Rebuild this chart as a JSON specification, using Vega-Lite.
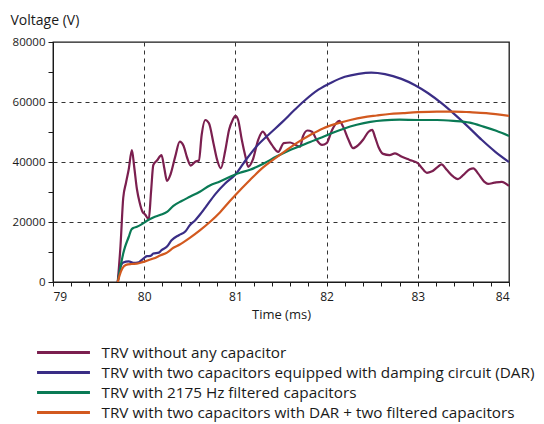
{
  "$schema": "https://vega.github.io/schema/vega-lite/v6.json",
  "autosize": {"type": "none"},
  "padding": {"left": 53, "top": 42, "right": 35, "bottom": 142},
  "width": 456,
  "height": 240,
  "background": "white",
  "config": {
    "font": "Open Sans",
    "view": {"stroke": "#1a1a1a", "strokeWidth": 1.3},
    "axis": {"domainColor": "#1a1a1a", "tickColor": "#1a1a1a", "labelColor": "#1a1a1a", "titleColor": "#1a1a1a", "labelFont": "Open Sans", "titleFont": "Open Sans", "titleFontWeight": "normal"}
  },
  "data": {"values": [
    {"t": 79.71, "v": 0, "s": "TRV without any capacitor"},
    {"t": 79.74, "v": 12000, "s": "TRV without any capacitor"},
    {"t": 79.77, "v": 28000, "s": "TRV without any capacitor"},
    {"t": 79.8, "v": 33000, "s": "TRV without any capacitor"},
    {"t": 79.83, "v": 37500, "s": "TRV without any capacitor"},
    {"t": 79.865, "v": 44000, "s": "TRV without any capacitor"},
    {"t": 79.89, "v": 38500, "s": "TRV without any capacitor"},
    {"t": 79.92, "v": 31000, "s": "TRV without any capacitor"},
    {"t": 79.95, "v": 26500, "s": "TRV without any capacitor"},
    {"t": 79.98, "v": 23500, "s": "TRV without any capacitor"},
    {"t": 80.01, "v": 22500, "s": "TRV without any capacitor"},
    {"t": 80.05, "v": 20900, "s": "TRV without any capacitor"},
    {"t": 80.075, "v": 30000, "s": "TRV without any capacitor"},
    {"t": 80.1, "v": 39000, "s": "TRV without any capacitor"},
    {"t": 80.14, "v": 40500, "s": "TRV without any capacitor"},
    {"t": 80.19, "v": 42300, "s": "TRV without any capacitor"},
    {"t": 80.22, "v": 38000, "s": "TRV without any capacitor"},
    {"t": 80.25, "v": 33700, "s": "TRV without any capacitor"},
    {"t": 80.29, "v": 36000, "s": "TRV without any capacitor"},
    {"t": 80.34, "v": 41800, "s": "TRV without any capacitor"},
    {"t": 80.39, "v": 46800, "s": "TRV without any capacitor"},
    {"t": 80.43, "v": 45500, "s": "TRV without any capacitor"},
    {"t": 80.47, "v": 41500, "s": "TRV without any capacitor"},
    {"t": 80.51, "v": 38800, "s": "TRV without any capacitor"},
    {"t": 80.56, "v": 40100, "s": "TRV without any capacitor"},
    {"t": 80.6, "v": 40500, "s": "TRV without any capacitor"},
    {"t": 80.63, "v": 49000, "s": "TRV without any capacitor"},
    {"t": 80.67, "v": 54000, "s": "TRV without any capacitor"},
    {"t": 80.71, "v": 52900, "s": "TRV without any capacitor"},
    {"t": 80.76, "v": 46200, "s": "TRV without any capacitor"},
    {"t": 80.8, "v": 40700, "s": "TRV without any capacitor"},
    {"t": 80.84, "v": 37900, "s": "TRV without any capacitor"},
    {"t": 80.89, "v": 44000, "s": "TRV without any capacitor"},
    {"t": 80.93, "v": 50700, "s": "TRV without any capacitor"},
    {"t": 80.97, "v": 54000, "s": "TRV without any capacitor"},
    {"t": 81.0, "v": 55400, "s": "TRV without any capacitor"},
    {"t": 81.03, "v": 54000, "s": "TRV without any capacitor"},
    {"t": 81.07, "v": 47400, "s": "TRV without any capacitor"},
    {"t": 81.11, "v": 41800, "s": "TRV without any capacitor"},
    {"t": 81.14, "v": 38400, "s": "TRV without any capacitor"},
    {"t": 81.19, "v": 40700, "s": "TRV without any capacitor"},
    {"t": 81.25, "v": 47400, "s": "TRV without any capacitor"},
    {"t": 81.3, "v": 50100, "s": "TRV without any capacitor"},
    {"t": 81.34, "v": 48500, "s": "TRV without any capacitor"},
    {"t": 81.4, "v": 45700, "s": "TRV without any capacitor"},
    {"t": 81.47, "v": 43400, "s": "TRV without any capacitor"},
    {"t": 81.53, "v": 46300, "s": "TRV without any capacitor"},
    {"t": 81.6, "v": 46500, "s": "TRV without any capacitor"},
    {"t": 81.66, "v": 45700, "s": "TRV without any capacitor"},
    {"t": 81.71, "v": 45100, "s": "TRV without any capacitor"},
    {"t": 81.74, "v": 48500, "s": "TRV without any capacitor"},
    {"t": 81.79, "v": 50500, "s": "TRV without any capacitor"},
    {"t": 81.84, "v": 50100, "s": "TRV without any capacitor"},
    {"t": 81.89, "v": 47400, "s": "TRV without any capacitor"},
    {"t": 81.95, "v": 45700, "s": "TRV without any capacitor"},
    {"t": 82.0, "v": 46300, "s": "TRV without any capacitor"},
    {"t": 82.06, "v": 50700, "s": "TRV without any capacitor"},
    {"t": 82.11, "v": 53100, "s": "TRV without any capacitor"},
    {"t": 82.14, "v": 53700, "s": "TRV without any capacitor"},
    {"t": 82.18, "v": 51800, "s": "TRV without any capacitor"},
    {"t": 82.24, "v": 47400, "s": "TRV without any capacitor"},
    {"t": 82.29, "v": 44600, "s": "TRV without any capacitor"},
    {"t": 82.35, "v": 45700, "s": "TRV without any capacitor"},
    {"t": 82.4, "v": 47400, "s": "TRV without any capacitor"},
    {"t": 82.46, "v": 50100, "s": "TRV without any capacitor"},
    {"t": 82.5, "v": 50700, "s": "TRV without any capacitor"},
    {"t": 82.53, "v": 48400, "s": "TRV without any capacitor"},
    {"t": 82.57, "v": 44900, "s": "TRV without any capacitor"},
    {"t": 82.62, "v": 42700, "s": "TRV without any capacitor"},
    {"t": 82.69, "v": 42300, "s": "TRV without any capacitor"},
    {"t": 82.75, "v": 42900, "s": "TRV without any capacitor"},
    {"t": 82.82, "v": 41800, "s": "TRV without any capacitor"},
    {"t": 82.91, "v": 40700, "s": "TRV without any capacitor"},
    {"t": 83.0, "v": 39600, "s": "TRV without any capacitor"},
    {"t": 83.04, "v": 38200, "s": "TRV without any capacitor"},
    {"t": 83.1, "v": 36400, "s": "TRV without any capacitor"},
    {"t": 83.15, "v": 36800, "s": "TRV without any capacitor"},
    {"t": 83.22, "v": 38400, "s": "TRV without any capacitor"},
    {"t": 83.26, "v": 39200, "s": "TRV without any capacitor"},
    {"t": 83.32, "v": 37300, "s": "TRV without any capacitor"},
    {"t": 83.39, "v": 35100, "s": "TRV without any capacitor"},
    {"t": 83.44, "v": 34300, "s": "TRV without any capacitor"},
    {"t": 83.5, "v": 35700, "s": "TRV without any capacitor"},
    {"t": 83.57, "v": 37600, "s": "TRV without any capacitor"},
    {"t": 83.61, "v": 37900, "s": "TRV without any capacitor"},
    {"t": 83.66, "v": 36200, "s": "TRV without any capacitor"},
    {"t": 83.73, "v": 33400, "s": "TRV without any capacitor"},
    {"t": 83.77, "v": 32700, "s": "TRV without any capacitor"},
    {"t": 83.84, "v": 33100, "s": "TRV without any capacitor"},
    {"t": 83.92, "v": 33400, "s": "TRV without any capacitor"},
    {"t": 84.0, "v": 32000, "s": "TRV without any capacitor"},

    {"t": 79.71, "v": 0, "s": "TRV with two capacitors equipped with damping circuit (DAR)"},
    {"t": 79.74, "v": 5000, "s": "TRV with two capacitors equipped with damping circuit (DAR)"},
    {"t": 79.77, "v": 6500, "s": "TRV with two capacitors equipped with damping circuit (DAR)"},
    {"t": 79.83, "v": 6900, "s": "TRV with two capacitors equipped with damping circuit (DAR)"},
    {"t": 79.88, "v": 6400, "s": "TRV with two capacitors equipped with damping circuit (DAR)"},
    {"t": 79.94, "v": 6600, "s": "TRV with two capacitors equipped with damping circuit (DAR)"},
    {"t": 79.99, "v": 7800, "s": "TRV with two capacitors equipped with damping circuit (DAR)"},
    {"t": 80.03, "v": 8600, "s": "TRV with two capacitors equipped with damping circuit (DAR)"},
    {"t": 80.07, "v": 8700, "s": "TRV with two capacitors equipped with damping circuit (DAR)"},
    {"t": 80.1, "v": 9500, "s": "TRV with two capacitors equipped with damping circuit (DAR)"},
    {"t": 80.16, "v": 9800, "s": "TRV with two capacitors equipped with damping circuit (DAR)"},
    {"t": 80.19, "v": 10600, "s": "TRV with two capacitors equipped with damping circuit (DAR)"},
    {"t": 80.25, "v": 11800, "s": "TRV with two capacitors equipped with damping circuit (DAR)"},
    {"t": 80.3, "v": 13900, "s": "TRV with two capacitors equipped with damping circuit (DAR)"},
    {"t": 80.38, "v": 15600, "s": "TRV with two capacitors equipped with damping circuit (DAR)"},
    {"t": 80.45, "v": 16800, "s": "TRV with two capacitors equipped with damping circuit (DAR)"},
    {"t": 80.5, "v": 18900, "s": "TRV with two capacitors equipped with damping circuit (DAR)"},
    {"t": 80.56, "v": 20600, "s": "TRV with two capacitors equipped with damping circuit (DAR)"},
    {"t": 80.61, "v": 22400, "s": "TRV with two capacitors equipped with damping circuit (DAR)"},
    {"t": 80.67, "v": 24800, "s": "TRV with two capacitors equipped with damping circuit (DAR)"},
    {"t": 80.78, "v": 29300, "s": "TRV with two capacitors equipped with damping circuit (DAR)"},
    {"t": 80.89, "v": 32900, "s": "TRV with two capacitors equipped with damping circuit (DAR)"},
    {"t": 81.0, "v": 35800, "s": "TRV with two capacitors equipped with damping circuit (DAR)"},
    {"t": 81.11, "v": 40500, "s": "TRV with two capacitors equipped with damping circuit (DAR)"},
    {"t": 81.22, "v": 44800, "s": "TRV with two capacitors equipped with damping circuit (DAR)"},
    {"t": 81.36, "v": 49000, "s": "TRV with two capacitors equipped with damping circuit (DAR)"},
    {"t": 81.51, "v": 53200, "s": "TRV with two capacitors equipped with damping circuit (DAR)"},
    {"t": 81.65, "v": 57400, "s": "TRV with two capacitors equipped with damping circuit (DAR)"},
    {"t": 81.76, "v": 60500, "s": "TRV with two capacitors equipped with damping circuit (DAR)"},
    {"t": 81.91, "v": 64100, "s": "TRV with two capacitors equipped with damping circuit (DAR)"},
    {"t": 82.06, "v": 66600, "s": "TRV with two capacitors equipped with damping circuit (DAR)"},
    {"t": 82.2, "v": 68400, "s": "TRV with two capacitors equipped with damping circuit (DAR)"},
    {"t": 82.35, "v": 69400, "s": "TRV with two capacitors equipped with damping circuit (DAR)"},
    {"t": 82.49, "v": 69800, "s": "TRV with two capacitors equipped with damping circuit (DAR)"},
    {"t": 82.64, "v": 69300, "s": "TRV with two capacitors equipped with damping circuit (DAR)"},
    {"t": 82.82, "v": 67700, "s": "TRV with two capacitors equipped with damping circuit (DAR)"},
    {"t": 82.97, "v": 65600, "s": "TRV with two capacitors equipped with damping circuit (DAR)"},
    {"t": 83.11, "v": 63000, "s": "TRV with two capacitors equipped with damping circuit (DAR)"},
    {"t": 83.26, "v": 59600, "s": "TRV with two capacitors equipped with damping circuit (DAR)"},
    {"t": 83.41, "v": 55700, "s": "TRV with two capacitors equipped with damping circuit (DAR)"},
    {"t": 83.55, "v": 51800, "s": "TRV with two capacitors equipped with damping circuit (DAR)"},
    {"t": 83.7, "v": 47400, "s": "TRV with two capacitors equipped with damping circuit (DAR)"},
    {"t": 83.85, "v": 43400, "s": "TRV with two capacitors equipped with damping circuit (DAR)"},
    {"t": 84.0, "v": 40000, "s": "TRV with two capacitors equipped with damping circuit (DAR)"},

    {"t": 79.71, "v": 0, "s": "TRV with 2175 Hz filtered capacitors"},
    {"t": 79.74, "v": 5000, "s": "TRV with 2175 Hz filtered capacitors"},
    {"t": 79.77, "v": 9500, "s": "TRV with 2175 Hz filtered capacitors"},
    {"t": 79.79, "v": 11700, "s": "TRV with 2175 Hz filtered capacitors"},
    {"t": 79.83, "v": 15000, "s": "TRV with 2175 Hz filtered capacitors"},
    {"t": 79.86, "v": 17500, "s": "TRV with 2175 Hz filtered capacitors"},
    {"t": 79.88, "v": 18000, "s": "TRV with 2175 Hz filtered capacitors"},
    {"t": 79.92, "v": 18400, "s": "TRV with 2175 Hz filtered capacitors"},
    {"t": 79.97, "v": 19200, "s": "TRV with 2175 Hz filtered capacitors"},
    {"t": 80.03, "v": 20400, "s": "TRV with 2175 Hz filtered capacitors"},
    {"t": 80.1, "v": 21500, "s": "TRV with 2175 Hz filtered capacitors"},
    {"t": 80.18, "v": 22400, "s": "TRV with 2175 Hz filtered capacitors"},
    {"t": 80.25, "v": 23400, "s": "TRV with 2175 Hz filtered capacitors"},
    {"t": 80.32, "v": 25400, "s": "TRV with 2175 Hz filtered capacitors"},
    {"t": 80.41, "v": 27000, "s": "TRV with 2175 Hz filtered capacitors"},
    {"t": 80.5, "v": 28400, "s": "TRV with 2175 Hz filtered capacitors"},
    {"t": 80.61, "v": 30100, "s": "TRV with 2175 Hz filtered capacitors"},
    {"t": 80.72, "v": 32200, "s": "TRV with 2175 Hz filtered capacitors"},
    {"t": 80.83, "v": 33500, "s": "TRV with 2175 Hz filtered capacitors"},
    {"t": 80.98, "v": 35600, "s": "TRV with 2175 Hz filtered capacitors"},
    {"t": 81.05, "v": 36400, "s": "TRV with 2175 Hz filtered capacitors"},
    {"t": 81.16, "v": 37400, "s": "TRV with 2175 Hz filtered capacitors"},
    {"t": 81.31, "v": 39500, "s": "TRV with 2175 Hz filtered capacitors"},
    {"t": 81.45, "v": 41800, "s": "TRV with 2175 Hz filtered capacitors"},
    {"t": 81.6, "v": 44000, "s": "TRV with 2175 Hz filtered capacitors"},
    {"t": 81.71, "v": 45300, "s": "TRV with 2175 Hz filtered capacitors"},
    {"t": 81.82, "v": 46700, "s": "TRV with 2175 Hz filtered capacitors"},
    {"t": 81.93, "v": 48000, "s": "TRV with 2175 Hz filtered capacitors"},
    {"t": 82.04, "v": 49400, "s": "TRV with 2175 Hz filtered capacitors"},
    {"t": 82.18, "v": 51000, "s": "TRV with 2175 Hz filtered capacitors"},
    {"t": 82.33, "v": 52400, "s": "TRV with 2175 Hz filtered capacitors"},
    {"t": 82.48, "v": 53400, "s": "TRV with 2175 Hz filtered capacitors"},
    {"t": 82.62, "v": 53900, "s": "TRV with 2175 Hz filtered capacitors"},
    {"t": 82.8, "v": 54100, "s": "TRV with 2175 Hz filtered capacitors"},
    {"t": 83.0, "v": 54000, "s": "TRV with 2175 Hz filtered capacitors"},
    {"t": 83.21, "v": 54000, "s": "TRV with 2175 Hz filtered capacitors"},
    {"t": 83.39, "v": 53700, "s": "TRV with 2175 Hz filtered capacitors"},
    {"t": 83.57, "v": 53100, "s": "TRV with 2175 Hz filtered capacitors"},
    {"t": 83.72, "v": 51800, "s": "TRV with 2175 Hz filtered capacitors"},
    {"t": 83.86, "v": 50400, "s": "TRV with 2175 Hz filtered capacitors"},
    {"t": 84.0, "v": 48700, "s": "TRV with 2175 Hz filtered capacitors"},

    {"t": 79.71, "v": 0, "s": "TRV with two capacitors with DAR + two filtered capacitors"},
    {"t": 79.73, "v": 2200, "s": "TRV with two capacitors with DAR + two filtered capacitors"},
    {"t": 79.76, "v": 4500, "s": "TRV with two capacitors with DAR + two filtered capacitors"},
    {"t": 79.8, "v": 5700, "s": "TRV with two capacitors with DAR + two filtered capacitors"},
    {"t": 79.86, "v": 6000, "s": "TRV with two capacitors with DAR + two filtered capacitors"},
    {"t": 79.92, "v": 6100, "s": "TRV with two capacitors with DAR + two filtered capacitors"},
    {"t": 79.99, "v": 6700, "s": "TRV with two capacitors with DAR + two filtered capacitors"},
    {"t": 80.1, "v": 7800, "s": "TRV with two capacitors with DAR + two filtered capacitors"},
    {"t": 80.18, "v": 8900, "s": "TRV with two capacitors with DAR + two filtered capacitors"},
    {"t": 80.25, "v": 9800, "s": "TRV with two capacitors with DAR + two filtered capacitors"},
    {"t": 80.32, "v": 11400, "s": "TRV with two capacitors with DAR + two filtered capacitors"},
    {"t": 80.39, "v": 12500, "s": "TRV with two capacitors with DAR + two filtered capacitors"},
    {"t": 80.5, "v": 14700, "s": "TRV with two capacitors with DAR + two filtered capacitors"},
    {"t": 80.61, "v": 17200, "s": "TRV with two capacitors with DAR + two filtered capacitors"},
    {"t": 80.72, "v": 20000, "s": "TRV with two capacitors with DAR + two filtered capacitors"},
    {"t": 80.83, "v": 23200, "s": "TRV with two capacitors with DAR + two filtered capacitors"},
    {"t": 80.94, "v": 27000, "s": "TRV with two capacitors with DAR + two filtered capacitors"},
    {"t": 81.05, "v": 30600, "s": "TRV with two capacitors with DAR + two filtered capacitors"},
    {"t": 81.16, "v": 34000, "s": "TRV with two capacitors with DAR + two filtered capacitors"},
    {"t": 81.27, "v": 37300, "s": "TRV with two capacitors with DAR + two filtered capacitors"},
    {"t": 81.38, "v": 40000, "s": "TRV with two capacitors with DAR + two filtered capacitors"},
    {"t": 81.53, "v": 43300, "s": "TRV with two capacitors with DAR + two filtered capacitors"},
    {"t": 81.67, "v": 46300, "s": "TRV with two capacitors with DAR + two filtered capacitors"},
    {"t": 81.82, "v": 49000, "s": "TRV with two capacitors with DAR + two filtered capacitors"},
    {"t": 81.96, "v": 51200, "s": "TRV with two capacitors with DAR + two filtered capacitors"},
    {"t": 82.11, "v": 52800, "s": "TRV with two capacitors with DAR + two filtered capacitors"},
    {"t": 82.26, "v": 54000, "s": "TRV with two capacitors with DAR + two filtered capacitors"},
    {"t": 82.4, "v": 54900, "s": "TRV with two capacitors with DAR + two filtered capacitors"},
    {"t": 82.55, "v": 55500, "s": "TRV with two capacitors with DAR + two filtered capacitors"},
    {"t": 82.69, "v": 56000, "s": "TRV with two capacitors with DAR + two filtered capacitors"},
    {"t": 82.84, "v": 56300, "s": "TRV with two capacitors with DAR + two filtered capacitors"},
    {"t": 83.0, "v": 56600, "s": "TRV with two capacitors with DAR + two filtered capacitors"},
    {"t": 83.21, "v": 56800, "s": "TRV with two capacitors with DAR + two filtered capacitors"},
    {"t": 83.39, "v": 56800, "s": "TRV with two capacitors with DAR + two filtered capacitors"},
    {"t": 83.57, "v": 56600, "s": "TRV with two capacitors with DAR + two filtered capacitors"},
    {"t": 83.75, "v": 56300, "s": "TRV with two capacitors with DAR + two filtered capacitors"},
    {"t": 84.0, "v": 55400, "s": "TRV with two capacitors with DAR + two filtered capacitors"}
  ]},
  "mark": {"type": "line", "strokeWidth": 2.2, "clip": true, "interpolate": "monotone"},
  "encoding": {
    "x": {
      "field": "t", "type": "quantitative",
      "scale": {"domain": [79, 84], "nice": false, "zero": false},
      "axis": {
        "title": "Time (ms)",
        "values": [79, 79.2, 79.4, 79.6, 79.8, 80, 80.2, 80.4, 80.6, 80.8, 81, 81.2, 81.4, 81.6, 81.8, 82, 82.2, 82.4, 82.6, 82.8, 83, 83.2, 83.4, 83.6, 83.8, 84],
        "labelExpr": "round(datum.value) == datum.value ? format(datum.value, 'd') : ''",
        "labelFontSize": 12,
        "labelPadding": 5,
        "tickSize": 4,
        "titleFontSize": 13,
        "titlePadding": 6,
        "grid": true,
        "gridColor": "#333333",
        "gridDash": [4, 4],
        "gridWidth": 1,
        "gridOpacity": {"condition": {"test": "round(datum.value) == datum.value && datum.value > 79 && datum.value < 84", "value": 1}, "value": 0}
      }
    },
    "y": {
      "field": "v", "type": "quantitative",
      "scale": {"domain": [0, 80000], "nice": false},
      "axis": {
        "title": "Voltage (V)",
        "titleAngle": 0,
        "titleAlign": "left",
        "titleBaseline": "alphabetic",
        "titleX": -43,
        "titleY": -18,
        "titleFontSize": 14,
        "values": [0, 10000, 20000, 30000, 40000, 50000, 60000, 70000, 80000],
        "labelExpr": "datum.value % 20000 == 0 ? format(datum.value, 'd') : ''",
        "labelFontSize": 11.5,
        "labelPadding": 3,
        "tickSize": 5,
        "grid": true,
        "gridColor": "#333333",
        "gridDash": [4, 4],
        "gridWidth": 1,
        "gridOpacity": {"condition": {"test": "datum.value % 20000 == 0 && datum.value > 0 && datum.value < 80000", "value": 1}, "value": 0}
      }
    },
    "color": {
      "field": "s", "type": "nominal",
      "scale": {
        "domain": ["TRV without any capacitor", "TRV with two capacitors equipped with damping circuit (DAR)", "TRV with 2175 Hz filtered capacitors", "TRV with two capacitors with DAR + two filtered capacitors"],
        "range": ["#7b1f4f", "#3a2d85", "#0a7a55", "#d2591f"]
      },
      "legend": {
        "title": null,
        "orient": "none",
        "legendX": 2,
        "legendY": 302,
        "direction": "vertical",
        "symbolType": "M-4,0H4",
        "symbolSize": 175,
        "symbolStrokeWidth": 3,
        "labelOffset": 29.5,
        "labelFontSize": 15.3,
        "labelFont": "Open Sans",
        "labelColor": "#1a1a1a",
        "labelLimit": 600,
        "rowPadding": 3,
        "padding": 0
      }
    }
  }
}
